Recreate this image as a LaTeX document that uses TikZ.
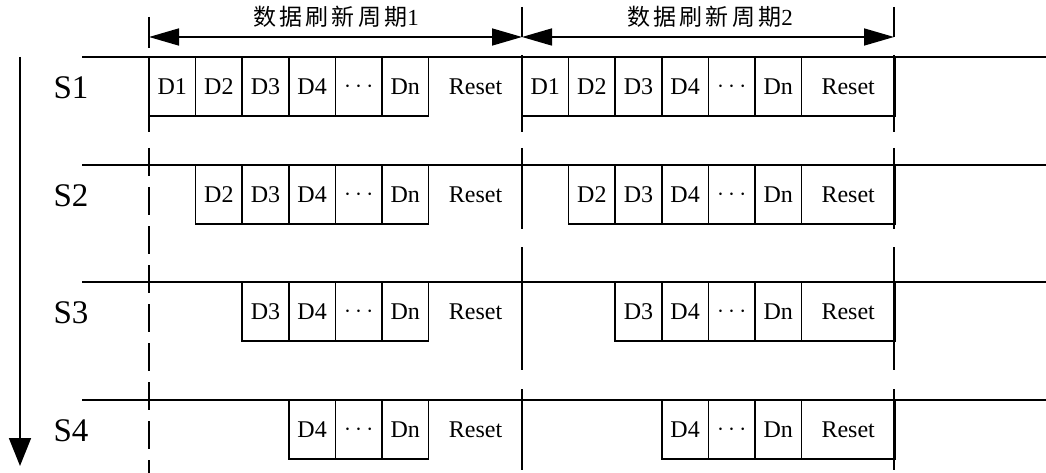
\documentclass[tikz,border=0pt]{standalone}
\usepackage{fontspec}
\setmainfont{Liberation Serif}
\newfontfamily\cjk[LetterSpace=14]{Noto Sans CJK SC}
\usetikzlibrary{arrows.meta}

\begin{document}
\begin{tikzpicture}[x=1pt,y=-1pt,line width=1.6pt,
    >={Triangle[length=30pt,width=17pt]},
    cell/.style={draw,minimum width=46.6pt,minimum height=59pt,inner sep=0pt,
      font=\fontsize{24}{28}\selectfont},
    resetbox/.style={cell,minimum width=93.2pt},
    sig/.style={font=\fontsize{33}{36}\selectfont},
    title/.style={font=\fontsize{23}{26}\selectfont}]
  \useasboundingbox (0,0) rectangle (1046,473);

  % refresh periods
  \coordinate (p0) at (149,37);
  \coordinate (p1) at (522,37);
  \coordinate (p2) at (894,37);
  \draw (149,17) -- (149,48);
  \draw (522,7) -- (522,37);
  \draw (894,7) -- (894,37);
  \draw[<->] (p0) -- (p1);
  \draw[<->] (p1) -- (p2);
  \node[title] (period1) at (336,17) {{\cjk 数据刷新周期}1};
  \node[title] (period2) at (710,17) {{\cjk 数据刷新周期}2};

  % time axis
  \coordinate (top) at (20,57);
  \coordinate (bottom) at (20,466);
  \draw[-{Triangle[length=28pt,width=22pt]}] (top) -- (bottom);

  % period borders
  \draw (149,57) -- (149,132);
  \draw[dash pattern=on 28pt off 11pt] (149,148) -- (149,473);
  \foreach \a/\b in {55/132,148/229,247/370,389/470} {
    \draw (522,\a) -- (522,\b);
    \draw (894,\a) -- (894,\b);
  }

  % rows
  \foreach \r/\t in {1/57,2/165,3/282,4/400} {
    \node[sig] (s\r) at (71,\t+31) {S\r};
    \draw (82,\t) -- (1046,\t);
    \foreach \p/\x in {a/149,b/522} {
      \foreach \k/\txt in {0/D1,1/D2,2/D3,3/D4,4/$\cdots$,5/Dn} {
        \ifnum\k<\numexpr\r-1\relax\else
          \node[cell] (\p\r\k) at (\x+46.6*\k+23.3,\t+29.5) {\txt};
        \fi
      }
    }
    \node[cell,draw=none,minimum width=93.2pt] (reseta\r) at (475.6,\t+29.5) {Reset};
    \node[resetbox] (resetb\r) at (848.2,\t+29.5) {Reset};
  }
\end{tikzpicture}
\end{document}
